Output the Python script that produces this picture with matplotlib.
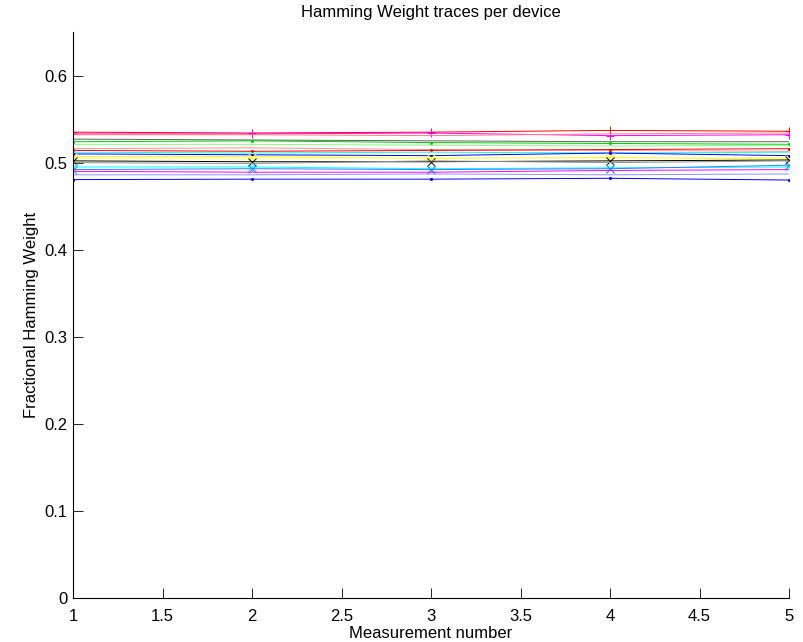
import matplotlib
matplotlib.use("Agg")
import matplotlib.pyplot as plt

measurements = [1, 2, 3, 4, 5]

dev_red = [0.535, 0.534, 0.535, 0.537, 0.536]
dev_magenta_top = [0.533, 0.533, 0.534, 0.531, 0.532]
dev_pink = [0.532, 0.532, 0.531, 0.533, 0.534]
dev_darkgray = [0.527, 0.526, 0.525, 0.524, 0.524]
dev_green = [0.524, 0.525, 0.523, 0.522, 0.521]
dev_lightgreen = [0.521, 0.521, 0.520, 0.519, 0.520]
dev_salmon = [0.516, 0.517, 0.515, 0.514, 0.513]
dev_red2 = [0.514, 0.513, 0.514, 0.515, 0.516]
dev_cyan = [0.512, 0.511, 0.512, 0.511, 0.512]
dev_blue = [0.510, 0.509, 0.508, 0.511, 0.508]
dev_yellow = [0.507, 0.507, 0.505, 0.506, 0.504]
dev_lightyellow = [0.505, 0.504, 0.506, 0.505, 0.506]
dev_black = [0.502, 0.501, 0.501, 0.502, 0.503]
dev_gray = [0.500, 0.499, 0.502, 0.500, 0.502]
dev_cyan2 = [0.495, 0.495, 0.493, 0.494, 0.495]
dev_bluex = [0.492, 0.493, 0.492, 0.493, 0.497]
dev_magenta = [0.490, 0.489, 0.489, 0.491, 0.492]
dev_lavender = [0.486, 0.486, 0.487, 0.486, 0.487]
dev_bluedot = [0.4805, 0.481, 0.481, 0.482, 0.480]

series = [
    (dev_red, '#ff0000', '+'),
    (dev_magenta_top, '#ff00ff', '+'),
    (dev_pink, '#ff8080', None),
    (dev_darkgray, '#606060', None),
    (dev_green, '#00cc00', '.'),
    (dev_lightgreen, '#80ff80', None),
    (dev_salmon, '#ff9090', None),
    (dev_red2, '#ff0000', '.'),
    (dev_cyan, '#00ffff', None),
    (dev_blue, '#0000ff', '.'),
    (dev_yellow, '#ffff00', 'x'),
    (dev_lightyellow, '#ffff90', None),
    (dev_black, '#000000', 'x'),
    (dev_gray, '#909090', None),
    (dev_cyan2, '#00ffff', 'x'),
    (dev_bluex, '#3080ff', 'x'),
    (dev_magenta, '#ff00ff', None),
    (dev_lavender, '#9090ff', None),
    (dev_bluedot, '#0000ff', '.'),
]

plt.rcParams['font.family'] = ['Liberation Sans', 'DejaVu Sans']
fig = plt.figure(figsize=(8.04, 6.42), dpi=100)
ax = fig.add_axes([73/804, 44/642, (789-73)/804, (598-32)/642])

for vals, col, mk in series:
    ax.plot(measurements, vals, color=col, linewidth=0.7,
            marker=mk if mk else None,
            markersize=6 if mk in ('+', 'x', '*') else 3,
            markeredgewidth=0.7)

ax.set_xlim(1, 5)
ax.set_ylim(0, 0.65)
ax.set_xticks([1, 1.5, 2, 2.5, 3, 3.5, 4, 4.5, 5])
ax.set_xticklabels(['1', '1.5', '2', '2.5', '3', '3.5', '4', '4.5', '5'])
ax.set_yticks([0, 0.1, 0.2, 0.3, 0.4, 0.5, 0.6])
ax.set_yticklabels(['0', '0.1', '0.2', '0.3', '0.4', '0.5', '0.6'])
ax.spines['top'].set_visible(False)
ax.spines['right'].set_visible(False)
for s in ['left', 'bottom']:
    ax.spines[s].set_linewidth(0.8)
ax.tick_params(direction='in', length=7, width=0.6, labelsize=12)
ax.tick_params(axis='x', pad=8)
ax.tick_params(axis='y', pad=4)
ax.set_title('Hamming Weight traces per device', fontsize=12, pad=11)
ax.set_xlabel('Measurement number', fontsize=12, labelpad=1)
ax.set_ylabel('Fractional Hamming Weight', fontsize=12)
ax.yaxis.set_label_coords(-0.0475, 0.5)

fig.savefig('out.png', dpi=100)
